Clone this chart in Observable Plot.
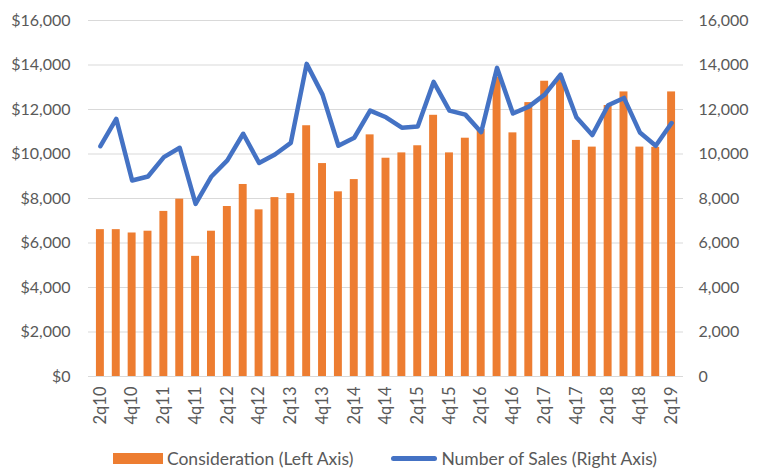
<!DOCTYPE html>
<html><head><meta charset="utf-8">
<script src="https://cdn.jsdelivr.net/npm/d3@7"></script>
<script src="https://cdn.jsdelivr.net/npm/@observablehq/plot@0.6"></script>
<style>
body{margin:0;background:#fff;font-family:Lato,"Open Sans",sans-serif;}
#legend{display:flex;justify-content:center;align-items:center;gap:38px;font-size:17.5px;color:#595959;margin-top:0px;}
.item{display:flex;align-items:center;gap:4px;}
.sw{display:inline-block;width:50px;height:11px;background:#ED7D31;}
.ln{display:inline-block;width:46px;height:5px;border-radius:3px;background:#4472C4;}
</style></head>
<body>
<div id="chart"></div>
<div id="legend"><span class="item"><span class="sw"></span>Consideration (Left Axis)</span><span class="item"><span class="ln"></span>Number of Sales (Right Axis)</span></div>
<script>
const quarters = [];
for (let y = 10; y <= 19; y++) for (let q = 1; q <= 4; q++) { if ((y === 10 && q < 2) || (y === 19 && q > 2)) continue; quarters.push(q + "q" + y); }
const consideration = [6600,6600,6450,6530,7420,7970,5400,6530,7640,8630,7490,8040,8220,11270,9570,8300,8850,10860,9810,10050,10370,11740,10050,10710,11100,13450,10950,12310,13270,13450,10610,10310,12180,12790,10310,10300,12790];
const sales = [10350,11580,8810,8990,9860,10280,7760,8990,9710,10910,9600,9980,10500,14050,12670,10370,10730,11950,11650,11180,11240,13240,11950,11770,10980,13870,11820,12130,12670,13570,11650,10850,12190,12520,10970,10370,11390];
const yTicks = [0,2000,4000,6000,8000,10000,12000,14000,16000];
const xLabels = quarters.filter((d,i) => i % 2 === 0);

const data = quarters.map((q,i) => ({q, c: consideration[i], s: sales[i]}));
const chart = Plot.plot({
  width: 770, height: 448,
  marginTop: 20, marginBottom: 72, marginLeft: 88, marginRight: 87,
  style: {fontFamily: "Lato, 'Open Sans', sans-serif", color: "#595959", background: "#fff"},
  x: {domain: quarters, padding: 0.5, align: 0.5},
  y: {domain: [0,16000]},
  marks: [
    Plot.gridY(yTicks, {stroke: "#d9d9d9", strokeOpacity: 1, strokeWidth: 1}),
    Plot.axisY({ticks: yTicks, anchor: "left", tickSize: 0, tickPadding: 18, label: null, fontSize: 16, tickFormat: d => "$" + d3.format(",")(d)}),
    Plot.axisY({ticks: yTicks, anchor: "right", tickSize: 0, tickPadding: 15, label: null, fontSize: 16, tickFormat: d3.format(",")}),
    Plot.axisX({ticks: xLabels, tickSize: 0, tickRotate: -90, tickPadding: 10, label: null, fontSize: 16.5}),
    Plot.barY(data, {x: "q", y: "c", fill: "#ED7D31"}),
    Plot.line(data, {x: "q", y: "s", stroke: "#4472C4", strokeWidth: 4.5, strokeLinejoin: "round", strokeLinecap: "round"})
  ]
});
document.getElementById("chart").appendChild(chart);
</script>
</body></html>
